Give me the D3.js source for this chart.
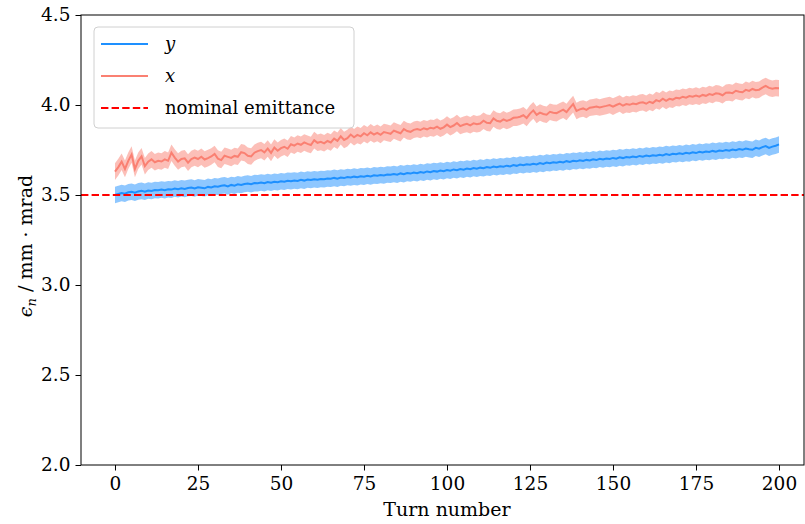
<!DOCTYPE html>
<html>
<head>
<meta charset="utf-8">
<script src="https://cdn.jsdelivr.net/npm/d3@7"></script>
<style>
  body { margin: 0; background: #fff; }
  svg { display: block; }
  text { font-family: "DejaVu Serif", "Liberation Serif", serif; fill: #000; }
</style>
</head>
<body>
<div id="chart"></div>
<script>
// ---- data: emittance per turn (index = turn number) ----
const yMean = [
  3.500, 3.506, 3.511, 3.507, 3.515, 3.518, 3.513, 3.520, 3.523, 3.518,
  3.525, 3.522, 3.528, 3.526, 3.531, 3.527, 3.532, 3.530, 3.536, 3.532,
  3.537, 3.534, 3.539, 3.541, 3.536, 3.543, 3.540, 3.537, 3.545, 3.542,
  3.548, 3.546, 3.551, 3.554, 3.548, 3.556, 3.552, 3.559, 3.556, 3.561,
  3.564, 3.560, 3.566, 3.565, 3.569, 3.566, 3.572, 3.568, 3.574, 3.571,
  3.576, 3.574, 3.579, 3.577, 3.581, 3.578, 3.584, 3.580, 3.586, 3.583,
  3.588, 3.585, 3.589, 3.587, 3.592, 3.590, 3.595, 3.591, 3.597, 3.594,
  3.600, 3.597, 3.602, 3.599, 3.604, 3.602, 3.607, 3.603, 3.609, 3.607,
  3.611, 3.608, 3.614, 3.612, 3.617, 3.613, 3.620, 3.616, 3.622, 3.619,
  3.625, 3.621, 3.628, 3.624, 3.631, 3.627, 3.633, 3.630, 3.636, 3.632,
  3.639, 3.635, 3.642, 3.638, 3.644, 3.641, 3.647, 3.643, 3.650, 3.646,
  3.652, 3.649, 3.655, 3.651, 3.658, 3.654, 3.660, 3.657, 3.663, 3.659,
  3.666, 3.662, 3.669, 3.665, 3.671, 3.668, 3.674, 3.670, 3.677, 3.673,
  3.680, 3.676, 3.682, 3.679, 3.685, 3.681, 3.688, 3.684, 3.690, 3.687,
  3.693, 3.689, 3.695, 3.692, 3.698, 3.694, 3.701, 3.697, 3.703, 3.700,
  3.706, 3.702, 3.709, 3.705, 3.711, 3.708, 3.714, 3.710, 3.717, 3.713,
  3.719, 3.715, 3.721, 3.718, 3.724, 3.720, 3.727, 3.723, 3.729, 3.726,
  3.732, 3.728, 3.734, 3.731, 3.737, 3.733, 3.740, 3.736, 3.742, 3.739,
  3.745, 3.741, 3.747, 3.744, 3.750, 3.746, 3.753, 3.749, 3.755, 3.751,
  3.758, 3.754, 3.751, 3.762, 3.757, 3.766, 3.772, 3.762, 3.769, 3.774,
  3.781
];

const xMean = [
  3.630, 3.655, 3.685, 3.645, 3.690, 3.725, 3.645, 3.690, 3.715, 3.660,
  3.685, 3.698, 3.682, 3.690, 3.686, 3.698, 3.690, 3.735, 3.708, 3.686,
  3.700, 3.704, 3.680, 3.700, 3.708, 3.700, 3.713, 3.697, 3.705, 3.714,
  3.728, 3.702, 3.694, 3.718, 3.712, 3.706, 3.717, 3.712, 3.738, 3.733,
  3.718, 3.714, 3.735, 3.744, 3.750, 3.737, 3.758, 3.734, 3.764, 3.746,
  3.760, 3.768, 3.757, 3.782, 3.774, 3.786, 3.779, 3.792, 3.784, 3.778,
  3.805, 3.790, 3.795, 3.787, 3.800, 3.792, 3.813, 3.801, 3.826, 3.806,
  3.816, 3.836, 3.821, 3.834, 3.826, 3.843, 3.832, 3.848, 3.836, 3.845,
  3.834, 3.850, 3.845, 3.840, 3.858, 3.850, 3.843, 3.866, 3.855, 3.851,
  3.862, 3.867, 3.861, 3.871, 3.865, 3.874, 3.870, 3.880, 3.868, 3.876,
  3.891, 3.877, 3.886, 3.900, 3.883, 3.890, 3.895, 3.887, 3.898, 3.893,
  3.897, 3.913, 3.901, 3.899, 3.925, 3.912, 3.908, 3.920, 3.911, 3.918,
  3.929, 3.930, 3.935, 3.943, 3.928, 3.952, 3.970, 3.945, 3.958, 3.950,
  3.946, 3.962, 3.957, 3.955, 3.965, 3.974, 3.961, 3.984, 4.005, 3.967,
  3.976, 3.981, 3.973, 3.985, 3.988, 3.991, 3.986, 3.991, 3.995, 4.000,
  3.991, 4.000, 4.008, 3.996, 4.005, 4.001, 4.008, 4.004, 4.012, 4.015,
  4.007, 4.018, 4.011, 4.027, 4.020, 4.035, 4.023, 4.034, 4.030, 4.040,
  4.037, 4.046, 4.041, 4.050, 4.046, 4.052, 4.046, 4.056, 4.051, 4.061,
  4.056, 4.065, 4.062, 4.054, 4.068, 4.070, 4.066, 4.079, 4.074, 4.071,
  4.084, 4.078, 4.089, 4.082, 4.085, 4.097, 4.106, 4.095, 4.090, 4.094,
  4.093
];

// half width of the shaded band around each mean
const ySpread = 0.046;
const xSpread = 0.046;

const nominal = 3.5;
const xTicks = [0, 25, 50, 75, 100, 125, 150, 175, 200];
const yTicks = [2.0, 2.5, 3.0, 3.5, 4.0, 4.5];

const legendItems = [
  { label: "y", math: true, color: "#1e90ff", dash: null },
  { label: "x", math: true, color: "#fa8072", dash: null },
  { label: "nominal emittance", math: false, color: "#ff0000", dash: "7.4,3.2" }
];

// ---- layout ----
const W = 805, H = 524;
const box = { left: 81, right: 804, top: 15, bottom: 465 };
const serif = '"DejaVu Serif", serif';

const svg = d3.select("#chart")
  .append("svg")
  .attr("width", W)
  .attr("height", H);

const x = d3.scaleLinear().domain([-10.24, 207.53]).range([box.left, box.right]);
const y = d3.scaleLinear().domain([2.0, 4.5]).range([box.bottom, box.top]);

const toPoints = arr => arr.map((v, i) => ({ t: i, v: v }));
const ySeries = toPoints(yMean);
const xSeries = toPoints(xMean);

svg.append("clipPath").attr("id", "plot")
  .append("rect")
  .attr("x", box.left).attr("y", box.top)
  .attr("width", box.right - box.left).attr("height", box.bottom - box.top);

const plot = svg.append("g").attr("clip-path", "url(#plot)");

function band(spread) {
  return d3.area()
    .x(d => x(d.t))
    .y0(d => y(d.v - spread))
    .y1(d => y(d.v + spread));
}

const line = d3.line()
  .x(d => x(d.t))
  .y(d => y(d.v));

// bands first, lines on top
plot.append("path").datum(ySeries)
  .attr("fill", "#1e90ff").attr("fill-opacity", 0.5)
  .attr("d", band(ySpread));

plot.append("path").datum(xSeries)
  .attr("fill", "#fa8072").attr("fill-opacity", 0.5)
  .attr("d", band(xSpread));

plot.append("path").datum(ySeries)
  .attr("fill", "none").attr("stroke", "#1e90ff").attr("stroke-width", 2)
  .attr("d", line);

plot.append("path").datum(xSeries)
  .attr("fill", "none").attr("stroke", "#fa8072").attr("stroke-width", 2)
  .attr("d", line);

plot.append("line")
  .attr("x1", box.left).attr("x2", box.right)
  .attr("y1", y(nominal)).attr("y2", y(nominal))
  .attr("stroke", "#ff0000").attr("stroke-width", 2)
  .attr("stroke-dasharray", "7.4,3.2");

// ---- axes ----
const xAxis = svg.append("g")
  .attr("transform", `translate(0,${box.bottom})`)
  .call(d3.axisBottom(x).tickValues(xTicks).tickSize(5.5).tickPadding(6).tickSizeOuter(0));

const yAxis = svg.append("g")
  .attr("transform", `translate(${box.left},0)`)
  .call(d3.axisLeft(y).tickValues(yTicks).tickFormat(d3.format(".1f")).tickSize(5.5).tickPadding(5).tickSizeOuter(0));

[xAxis, yAxis].forEach(a => {
  a.attr("font-family", serif).attr("font-size", 18.5);
  a.select(".domain").remove();
  a.selectAll(".tick line").attr("stroke", "#000").attr("stroke-width", 1);
  a.selectAll(".tick text").attr("fill", "#000");
});

// frame
svg.append("rect")
  .attr("x", box.left).attr("y", box.top)
  .attr("width", box.right - box.left).attr("height", box.bottom - box.top)
  .attr("fill", "none").attr("stroke", "#000").attr("stroke-width", 1);

// ---- labels ----
svg.append("text")
  .attr("x", (x(0) + x(200)) / 2)
  .attr("y", 516)
  .attr("text-anchor", "middle")
  .attr("font-family", serif)
  .attr("font-size", 19)
  .text("Turn number");

const ylab = svg.append("text")
  .attr("transform", "translate(32,246) rotate(-90)")
  .attr("text-anchor", "middle")
  .attr("font-family", serif)
  .attr("font-size", 19);
ylab.append("tspan").attr("font-style", "italic").text("ϵ");
ylab.append("tspan").attr("font-style", "italic").attr("font-size", 13)
  .attr("dy", 4).text("n");
ylab.append("tspan").attr("dy", -4).text(" / mm · mrad");

// ---- legend ----
const lg = svg.append("g");
lg.append("rect")
  .attr("x", 94).attr("y", 27)
  .attr("width", 260).attr("height", 101)
  .attr("rx", 4)
  .attr("fill", "#fff").attr("fill-opacity", 0.8)
  .attr("stroke", "#d0d0d0").attr("stroke-width", 1);

const rows = lg.selectAll("g.item")
  .data(legendItems)
  .enter()
  .append("g")
  .attr("class", "item")
  .attr("transform", (d, i) => `translate(0,${44 + i * 32})`);

rows.append("line")
  .attr("x1", 101).attr("x2", 148)
  .attr("stroke", d => d.color)
  .attr("stroke-width", 2)
  .attr("stroke-dasharray", d => d.dash);

rows.append("text")
  .attr("x", 165)
  .attr("y", 6)
  .attr("font-family", serif)
  .attr("font-size", 18)
  .attr("font-style", d => d.math ? "italic" : "normal")
  .text(d => d.label);
</script>
</body>
</html>
